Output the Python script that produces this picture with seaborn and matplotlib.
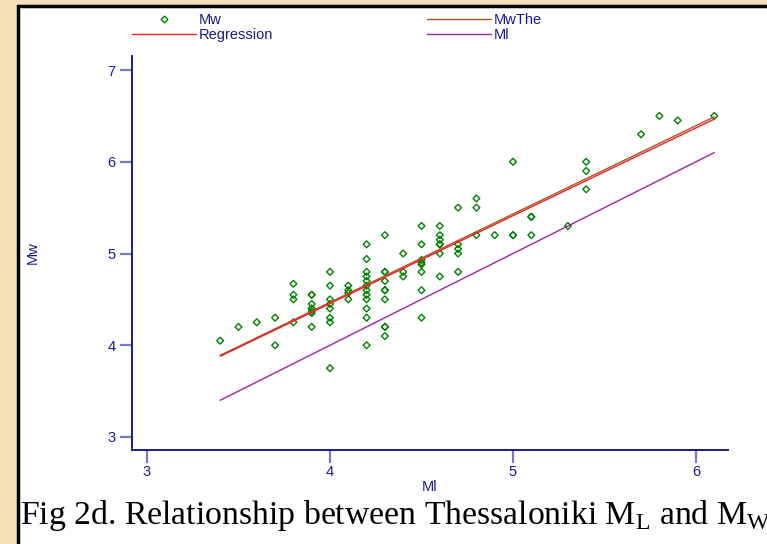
import numpy as np
import pandas as pd
import matplotlib
matplotlib.use('Agg')
import matplotlib.pyplot as plt
from matplotlib.lines import Line2D
from matplotlib.patches import Rectangle
import seaborn as sns

# Thessaloniki local magnitude (Ml) vs moment magnitude (Mw)
ml = [3.4, 3.5, 3.6, 3.7, 3.7,
      3.8, 3.8, 3.8, 3.8,
      3.9, 3.9, 3.9, 3.9, 3.9, 3.9, 3.9, 3.9,
      4.0, 4.0, 4.0, 4.0, 4.0, 4.0, 4.0, 4.0,
      4.1, 4.1, 4.1, 4.1,
      4.2, 4.2, 4.2, 4.2, 4.2, 4.2, 4.2, 4.2, 4.2, 4.2, 4.2, 4.2,
      4.3, 4.3, 4.3, 4.3, 4.3, 4.3, 4.3, 4.3, 4.3, 4.3,
      4.4, 4.4, 4.4,
      4.5, 4.5, 4.5, 4.5, 4.5, 4.5, 4.5, 4.5,
      4.6, 4.6, 4.6, 4.6, 4.6, 4.6, 4.6,
      4.7, 4.7, 4.7, 4.7, 4.7,
      4.8, 4.8, 4.8,
      4.9,
      5.0, 5.0, 5.0,
      5.1, 5.1, 5.1,
      5.3,
      5.4, 5.4, 5.4,
      5.7, 5.8, 5.9, 6.1]
mw = [4.05, 4.2, 4.25, 4.3, 4.0,
      4.67, 4.55, 4.5, 4.25,
      4.55, 4.55, 4.45, 4.4, 4.4, 4.37, 4.35, 4.2,
      4.8, 4.65, 4.5, 4.45, 4.4, 4.3, 4.25, 3.75,
      4.65, 4.6, 4.57, 4.5,
      5.1, 4.94, 4.8, 4.75, 4.7, 4.65, 4.6, 4.55, 4.5, 4.4, 4.3, 4.0,
      5.2, 4.8, 4.8, 4.7, 4.6, 4.6, 4.5, 4.2, 4.2, 4.1,
      5.0, 4.8, 4.75,
      5.3, 5.1, 4.93, 4.9, 4.88, 4.8, 4.6, 4.3,
      5.3, 5.2, 5.15, 5.1, 5.1, 5.0, 4.75,
      5.5, 5.1, 5.05, 5.0, 4.8,
      5.6, 5.5, 5.2,
      5.2,
      6.0, 5.2, 5.2,
      5.4, 5.4, 5.2,
      5.3,
      6.0, 5.9, 5.7,
      6.3, 6.5, 6.45, 6.5]

# fitted / theoretical lines, read at the ends of the Ml range
line_ml = [3.4, 6.1]
regression = [3.88, 6.465]
mw_the = [3.89, 6.49]
ml_line = [3.4, 6.1]

df = pd.DataFrame({'Ml': ml, 'Mw': mw})
lines = pd.DataFrame({'Ml': line_ml, 'Regression': regression,
                      'MwThe': mw_the, 'MlLine': ml_line})

sns.set_theme(style='ticks')
plt.rcParams['font.family'] = ['Liberation Sans', 'DejaVu Sans']
plt.rcParams['mathtext.fontset'] = 'custom'
plt.rcParams['mathtext.rm'] = 'Liberation Serif'

navy = '#1a1a8c'
green = '#008000'
red = '#f01e1e'
brown = '#9c5a28'
purple = '#a020a8'

W, H = 767, 544
fig = plt.figure(figsize=(W / 100, H / 100), dpi=100)
fig.patch.set_facecolor('#f4dfb8')
fig.add_artist(Rectangle((18 / W, -0.05), 1.1, (H - 6) / H + 0.05,
                         transform=fig.transFigure, facecolor='white',
                         edgecolor='black', lw=2.5, zorder=-1))

ax = fig.add_axes([132 / W, 1 - 450 / H, (728 - 132) / W, (450 - 56) / H])
ax.set_facecolor('none')

sns.lineplot(data=lines, x='Ml', y='MlLine', color=purple, lw=1.0, ax=ax)
sns.lineplot(data=lines, x='Ml', y='MwThe', color=brown, lw=1.0, ax=ax)
sns.lineplot(data=lines, x='Ml', y='Regression', color=red, lw=1.0, ax=ax)
sns.scatterplot(data=df, x='Ml', y='Mw', marker='D', s=12,
                facecolors='none', edgecolors=green, linewidths=1.0, ax=ax)

ax.set_xlim(2.918, 6.175)
ax.set_ylim(2.858, 7.153)
ax.set_xticks([3, 4, 5, 6])
ax.set_yticks([3, 4, 5, 6, 7])
for s in ['top', 'right']:
    ax.spines[s].set_visible(False)
for s in ['left', 'bottom']:
    ax.spines[s].set_color(navy)
    ax.spines[s].set_linewidth(1.4)
ax.tick_params(direction='out', length=9, width=1.6, color='#7878c4',
               labelcolor=navy, labelsize=10.5)
ax.tick_params(axis='x', pad=1.5)
ax.tick_params(axis='y', pad=3)
ax.set_xlabel('Ml', color=navy, fontsize=10.5, labelpad=1)
ax.set_ylabel('Mw', color=navy, fontsize=10.5)
ax.yaxis.set_label_coords(-0.155, 0.5)

handles = [Line2D([], [], marker='D', ls='none', mfc='none', mec=green, ms=3.5, mew=1.0),
           Line2D([], [], color=red, lw=1.0),
           Line2D([], [], color=brown, lw=1.0),
           Line2D([], [], color=purple, lw=1.0)]
labels = ['Mw', 'Regression', 'MwThe', 'Ml']
leg = fig.legend(handles, labels, loc='upper left', bbox_to_anchor=(132 / W, 1 - 13 / H),
                 ncol=2, frameon=False, fontsize=10.5, handlelength=4.4,
                 handletextpad=0.2, columnspacing=10.5, labelspacing=0.1,
                 borderpad=0, borderaxespad=0)
for t in leg.get_texts():
    t.set_color(navy)

fig.text(20 / W, 1 - 524 / H,
         r'Fig 2d. Relationship between Thessaloniki M$_\mathrm{L}$ and M$_\mathrm{W}$',
         family='Liberation Serif', fontsize=24.3, color='black', va='baseline', ha='left')

fig.savefig('out.png', dpi=100)
